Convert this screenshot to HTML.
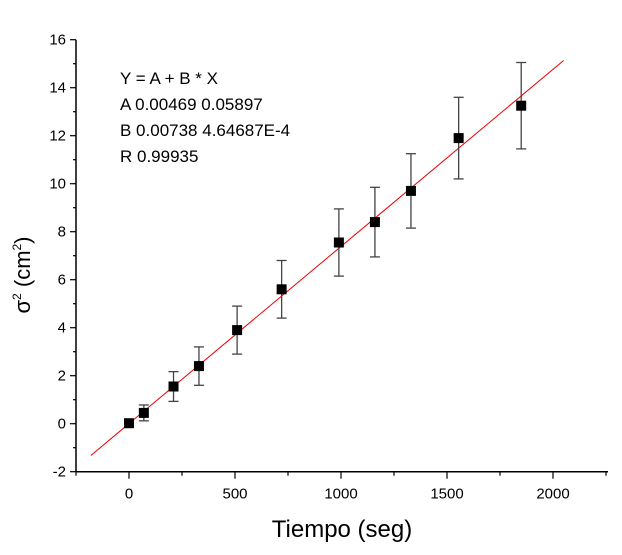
<!DOCTYPE html>
<html><head><meta charset="utf-8"><style>
body{margin:0;background:#fff;font-family:"Liberation Sans",Arial,sans-serif}
svg text{font-family:"Liberation Sans",Arial,sans-serif}
</style></head><body>
<svg id="chart" width="622" height="550" xmlns="http://www.w3.org/2000/svg">
<g id="axes"></g>
<g id="marks"></g>
<g font-size="17" fill="#000">
<text x="120" y="84">Y = A + B * X</text>
<text x="120" y="110">A 0.00469 0.05897</text>
<text x="120" y="136">B 0.00738 4.64687E-4</text>
<text x="120" y="162">R 0.99935</text>
</g>
<text x="342" y="537" font-size="24" text-anchor="middle">Tiempo (seg)</text>
<text transform="translate(30,275) rotate(-90)" font-size="22" text-anchor="middle">σ<tspan dy="-9" font-size="12">2</tspan><tspan dy="9"> (cm</tspan><tspan dy="-9" font-size="12">2</tspan><tspan dy="9">)</tspan></text>
</svg>
<script>
const xs=[0,70,210,330,510,720,990,1160,1330,1555,1850];
const ys=[0.02,0.45,1.55,2.4,3.9,5.6,7.55,8.4,9.7,11.9,13.25];
const errs=[0.05,0.33,0.62,0.8,1.0,1.2,1.4,1.45,1.55,1.7,1.8];
const fitA=0.00469, fitB=0.00738;
const fitRange=[-180,2050];
const xTicks=[0,500,1000,1500,2000];
const yTicks=[-2,0,2,4,6,8,10,12,14,16];
const X=v=>129+v*0.212, Y=v=>423.7-v*24;
const NS="http://www.w3.org/2000/svg";
function mk(p,t,a){const e=document.createElementNS(NS,t);for(const k in a)e.setAttribute(k,a[k]);p.appendChild(e);return e;}
const ax=document.getElementById('axes'), mg=document.getElementById('marks');
const L=76,B=471.7,R=608,T=39.7;
let e=mk(ax,'line',{x1:L,y1:T,x2:L,y2:B,stroke:'#000','stroke-width':1.5});

e=mk(ax,'line',{x1:L,y1:B,x2:R,y2:B,stroke:'#000','stroke-width':1.5});

for(let v=-2;v<=16;v+=1){const major=v%2===0;mk(ax,'line',{x1:L,y1:Y(v),x2:L-(major?6:3),y2:Y(v),stroke:'#000','stroke-width':1.2});}
yTicks.forEach(v=>{const t=mk(ax,'text',{x:L-10,y:Y(v)+5,'font-size':15,'text-anchor':'end'});t.textContent=v;
});
for(let v=-250;v<=2250;v+=250){const major=v%500===0;mk(ax,'line',{x1:X(v),y1:B,x2:X(v),y2:B+(major?7:4),stroke:'#000','stroke-width':1.2});}
xTicks.forEach(v=>{const t=mk(ax,'text',{x:X(v),y:B+27,'font-size':15,'text-anchor':'middle'});t.textContent=v;
});
e=mk(mg,'line',{x1:X(fitRange[0]),y1:Y(fitA+fitB*fitRange[0]),x2:X(fitRange[1]),y2:Y(fitA+fitB*fitRange[1]),stroke:'#e00','stroke-width':1});

xs.forEach((x,i)=>{const cx=X(x),y1=Y(ys[i]-errs[i]),y2=Y(ys[i]+errs[i]);
const g=mk(mg,'g',{stroke:'#444','stroke-width':1.3});

mk(g,'line',{x1:cx,y1:y1,x2:cx,y2:y2});mk(g,'line',{x1:cx-5,y1:y1,x2:cx+5,y2:y1});mk(g,'line',{x1:cx-5,y1:y2,x2:cx+5,y2:y2});
const r=mk(mg,'rect',{x:cx-5,y:Y(ys[i])-5,width:10,height:10,fill:'#000'});
});
</script>
</body></html>
